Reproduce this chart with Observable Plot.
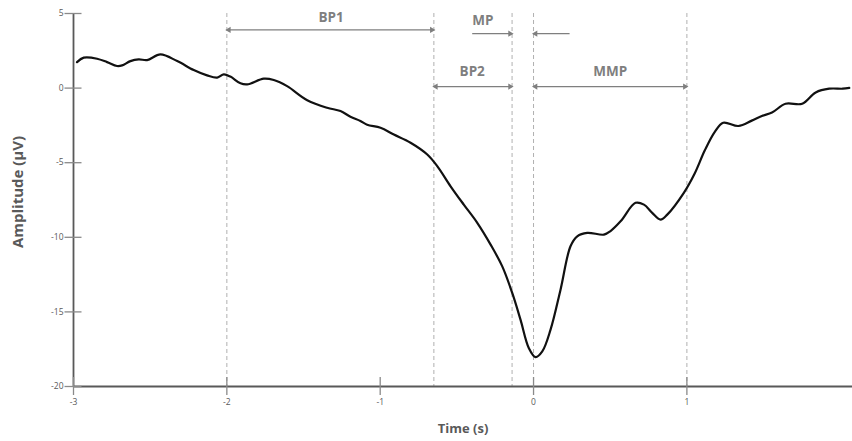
<!DOCTYPE html>
<html>
<head>
<meta charset="utf-8">
<script src="https://cdn.jsdelivr.net/npm/d3@7"></script>
<script src="https://cdn.jsdelivr.net/npm/@observablehq/plot@0.6"></script>
<style>
  html, body { margin: 0; padding: 0; background: #fff; }
  #chart svg { display: block; }
</style>
</head>
<body>
<div id="chart"></div>
<script>
// ---- Data ----
const time = [
  -2.977, -2.933, -2.846, -2.781, -2.716, -2.683, -2.629, -2.575, -2.520, -2.433,
  -2.324, -2.216, -2.129, -2.063, -2.020, -1.977, -1.911, -1.868, -1.759, -1.694,
  -1.607, -1.476, -1.346, -1.259, -1.194, -1.129, -1.085, -0.998, -0.911, -0.802,
  -0.693, -0.628, -0.541, -0.455, -0.367, -0.280, -0.204, -0.139, -0.085, -0.031,
   0.013,  0.057,  0.111,  0.176,  0.241,  0.285,  0.350,  0.459,  0.502,  0.569,
   0.665,  0.720,  0.774,  0.828,  0.872,  0.980,  1.050,  1.117,  1.182,  1.237,
   1.336,  1.423,  1.489,  1.555,  1.643,  1.752,  1.840,  1.928,  2.016,  2.059
];
const amplitude = [
   1.74,  2.04,  1.97,  1.74,  1.48,  1.52,  1.81,  1.93,  1.88,  2.26,
   1.81,  1.21,  0.85,  0.70,  0.92,  0.77,  0.32,  0.25,  0.63,  0.54,
   0.13, -0.81, -1.32, -1.54, -1.92, -2.20, -2.45, -2.66, -3.11, -3.66,
  -4.45, -5.23, -6.58, -7.81, -9.03, -10.49, -11.95, -13.73, -15.52, -17.42,
 -18.03, -17.65, -16.19, -13.51, -10.60, -9.93, -9.70, -9.82, -9.58, -8.91,
  -7.69, -7.81, -8.36, -8.81, -8.48, -7.02, -5.74, -4.17, -2.93, -2.32,
  -2.54, -2.18, -1.87, -1.64, -1.05, -1.05, -0.29, -0.04, -0.04, 0.01
];

const xTicks = [-3, -2, -1, 0, 1];
const yTicks = [5, 0, -5, -10, -15, -20];

// Phase boundaries (s), drawn as dashed verticals
const boundaries = [-2, -0.65, -0.14, 0, 1];

// Phase spans
const spanNames   = ["BP1", "MP", "", "BP2", "MMP"];
const spanStart   = [-2, -0.40, 0, -0.65, 0];
const spanEnd     = [-0.65, -0.14, 0.235, -0.14, 1];
const spanLevel   = [3.9, 3.65, 3.65, 0.1, 0.1];
const labelLevel  = [4.75, 4.55, 4.55, 1.1, 1.1];
const labelX      = [-1.32, -0.33, 0, -0.40, 0.5];
const headAtStart = [true, false, true, true, true];
const headAtEnd   = [true, true, false, true, true];

// ---- Build tables ----
const curve = time.map((t, i) => ({t, v: amplitude[i]}));
const spans = spanNames.map((name, i) => ({
  name, x1: spanStart[i], x2: spanEnd[i], y: spanLevel[i], ly: labelLevel[i], lx: labelX[i]
}));
const heads = [];
spans.forEach((s, i) => {
  if (headAtStart[i]) heads.push({x: s.x1, y: s.y, dir: "left"});
  if (headAtEnd[i]) heads.push({x: s.x2, y: s.y, dir: "right"});
});

const axisColor = "#595959";
const tickColor = "#8a8a8a";
const annoColor = "#7f7f7f";
const dashColor = "#b0b0b0";
const fmt = d => String(d);

const chart = Plot.plot({
  width: 852,
  height: 441,
  marginLeft: 73,
  marginRight: 0,
  marginTop: 13,
  marginBottom: 55,
  x: {domain: [-3, 2.08]},
  y: {domain: [-20, 5]},
  style: {fontFamily: "'Open Sans', 'Liberation Sans', sans-serif", background: "#fff"},
  marks: [
    // dashed phase boundaries
    Plot.ruleX(boundaries, {stroke: dashColor, strokeWidth: 1, strokeDasharray: "4,3"}),
    // axis lines
    Plot.ruleX([-3], {stroke: axisColor, strokeWidth: 1.8}),
    Plot.ruleY([-20], {stroke: axisColor, strokeWidth: 1.8}),
    // crossing tick marks
    Plot.ruleX(xTicks, {x: d => d, y1: -20, y2: -20, insetTop: -9, insetBottom: -9, stroke: tickColor, strokeWidth: 1.3}),
    Plot.ruleY(yTicks, {y: d => d, x1: -3, x2: -3, insetLeft: -8.5, insetRight: -8.5, stroke: tickColor, strokeWidth: 1.3}),
    // tick labels
    Plot.axisX(xTicks, {tickSize: 0, tickPadding: 12, fontSize: 8.5, color: axisColor, label: null, tickFormat: fmt}),
    Plot.axisY(yTicks, {tickSize: 0, tickPadding: 10, fontSize: 8.5, color: axisColor, label: null, tickFormat: fmt}),
    // axis titles
    Plot.text(["Time (s)"], {frameAnchor: "bottom", dy: 46, fontSize: 13, fontWeight: "bold", fill: axisColor}),
    Plot.text(["Amplitude (µV)"], {frameAnchor: "left", textAnchor: "middle", rotate: -90, dx: -55, dy: -8, fontSize: 15, fontWeight: "bold", fill: axisColor}),
    // phase arrows
    Plot.link(spans, {x1: "x1", x2: "x2", y1: "y", y2: "y", stroke: annoColor, strokeWidth: 1.3}),
    Plot.dot(heads.filter(h => h.dir === "right"), {x: "x", y: "y", symbol: "triangle", rotate: 90, r: 2.3, fill: annoColor, dx: -2}),
    Plot.dot(heads.filter(h => h.dir === "left"), {x: "x", y: "y", symbol: "triangle", rotate: -90, r: 2.3, fill: annoColor, dx: 2}),
    Plot.text(spans.filter(s => s.name), {x: "lx", y: "ly", text: "name", fontSize: 13.5, fontWeight: "bold", fill: annoColor}),
    // the waveform
    Plot.line(curve, {x: "t", y: "v", stroke: "#111", strokeWidth: 2.2, curve: "catmull-rom"})
  ]
});
document.getElementById("chart").appendChild(chart);
</script>
</body>
</html>
